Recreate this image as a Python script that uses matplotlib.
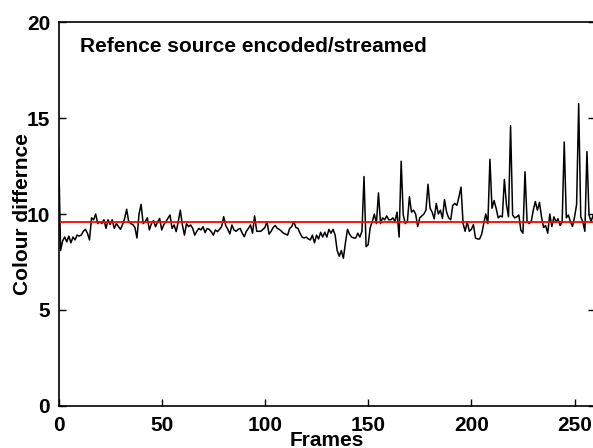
import numpy as np
import matplotlib
matplotlib.use("Agg")
import matplotlib.pyplot as plt

plt.rcParams['font.family'] = ['Liberation Sans', 'DejaVu Sans']
plt.rcParams['font.weight'] = 'bold'

# Colour difference per frame (frames 0..260)
colour_diff = [
    13.5, 8.1, 8.6, 8.8, 8.55, 8.85, 8.5, 8.8, 8.65, 8.9,
    8.85, 8.9, 9.1, 9.2, 9.0, 8.65, 9.8, 9.7, 10.0, 9.5,
    9.6, 9.5, 9.7, 9.25, 9.7, 9.45, 9.7, 9.25, 9.5, 9.35,
    9.2, 9.45, 9.75, 10.25, 9.6, 9.5, 9.45, 9.3, 8.75, 10.0,
    10.5, 9.5, 9.6, 9.8, 9.17, 9.5, 9.65, 9.34, 9.6, 9.77,
    9.17, 9.45, 9.6, 9.77, 9.95, 9.25, 9.43, 9.08, 9.6, 10.2,
    9.43, 8.9, 9.5, 9.34, 9.43, 9.25, 8.9, 9.1, 9.25, 9.17,
    9.34, 9.03, 9.25, 9.2, 9.08, 8.9, 9.17, 9.08, 9.2, 9.34,
    9.86, 9.4, 9.2, 8.96, 9.43, 9.17, 9.1, 9.2, 9.25, 9.0,
    8.82, 9.1, 9.25, 9.43, 9.0, 9.9, 9.1, 9.1, 9.1, 9.2,
    9.3, 9.6, 8.95, 9.1, 9.3, 9.4, 9.25, 9.2, 9.1, 9.0,
    8.95, 8.9, 9.25, 9.35, 9.6, 9.3, 9.25, 9.0, 8.8, 8.75,
    8.8, 8.7, 8.65, 8.9, 8.5, 8.9, 8.7, 9.05, 8.8, 9.05,
    8.8, 9.2, 9.0, 9.2, 8.9, 8.1, 7.8, 8.1, 7.7, 8.5,
    9.2, 8.95, 8.8, 8.75, 8.75, 9.0, 8.8, 9.1, 11.95, 8.3,
    8.4, 9.3, 9.6, 10.0, 9.5, 11.1, 9.5, 9.8, 9.7, 9.9,
    9.7, 9.7, 9.8, 9.6, 10.1, 8.8, 12.75, 9.95, 9.5, 9.6,
    10.9, 10.1, 10.2, 10.0, 9.35, 9.8, 9.9, 10.0, 10.2, 11.55,
    10.3, 10.1, 9.75, 10.55, 10.0, 10.2, 9.77, 10.75, 10.1, 9.8,
    9.7, 10.45, 10.55, 10.45, 10.9, 11.4, 9.5, 9.1, 9.6, 9.1,
    9.2, 9.45, 8.75, 8.7, 8.7, 8.95, 9.5, 10.0, 9.5, 12.85,
    10.3, 10.7, 10.3, 9.8, 9.9, 9.85, 11.8, 10.5, 9.85, 14.6,
    9.95, 9.8, 9.85, 9.95, 9.15, 9.0, 12.2, 9.6, 9.5, 9.6,
    10.2, 10.65, 10.2, 10.6, 9.85, 9.3, 9.4, 9.0, 10.0, 9.35,
    9.85, 9.6, 9.75, 9.4, 9.6, 13.75, 9.8, 9.95, 9.6, 9.35,
    9.85, 10.5, 15.75, 9.85, 9.6, 9.1, 13.25, 9.95, 9.6, 9.95,
    9.3,
]
frames = np.arange(len(colour_diff))
reference_level = 9.6

x_ticks = [0, 50, 100, 150, 200, 250]
y_ticks = [0, 5, 10, 15, 20]
title_text = "Refence source encoded/streamed"
x_label = "Frames"
y_label = "Colour differnce"

fig = plt.figure(figsize=(5.93, 4.48), dpi=100)
ax = fig.add_axes([0.0987, 0.0938, 0.905, 0.857])

ax.plot(frames, colour_diff, color='black', lw=1.1)
ax.axhline(reference_level, color='#ff0000', lw=1.3)

ax.set_xlim(0, 260)
ax.set_ylim(0, 20)
ax.set_xticks(x_ticks)
ax.set_yticks(y_ticks)
ax.tick_params(axis='both', direction='in', length=5, width=1.0,
               labelsize=15, right=True, top=False)
ax.tick_params(axis='y', pad=6)
ax.tick_params(axis='x', pad=7)
for lab in ax.get_xticklabels() + ax.get_yticklabels():
    lab.set_fontweight('bold')
for sp in ax.spines.values():
    sp.set_linewidth(1.2)

ax.set_xlabel(x_label, fontsize=15, fontweight='bold', labelpad=-3)
ax.set_ylabel(y_label, fontsize=15, fontweight='bold', labelpad=-4)
ax.text(0.04, 0.935, title_text, transform=ax.transAxes, fontsize=15,
        fontweight='bold', va='center', ha='left')

fig.savefig('out.png', dpi=100)
